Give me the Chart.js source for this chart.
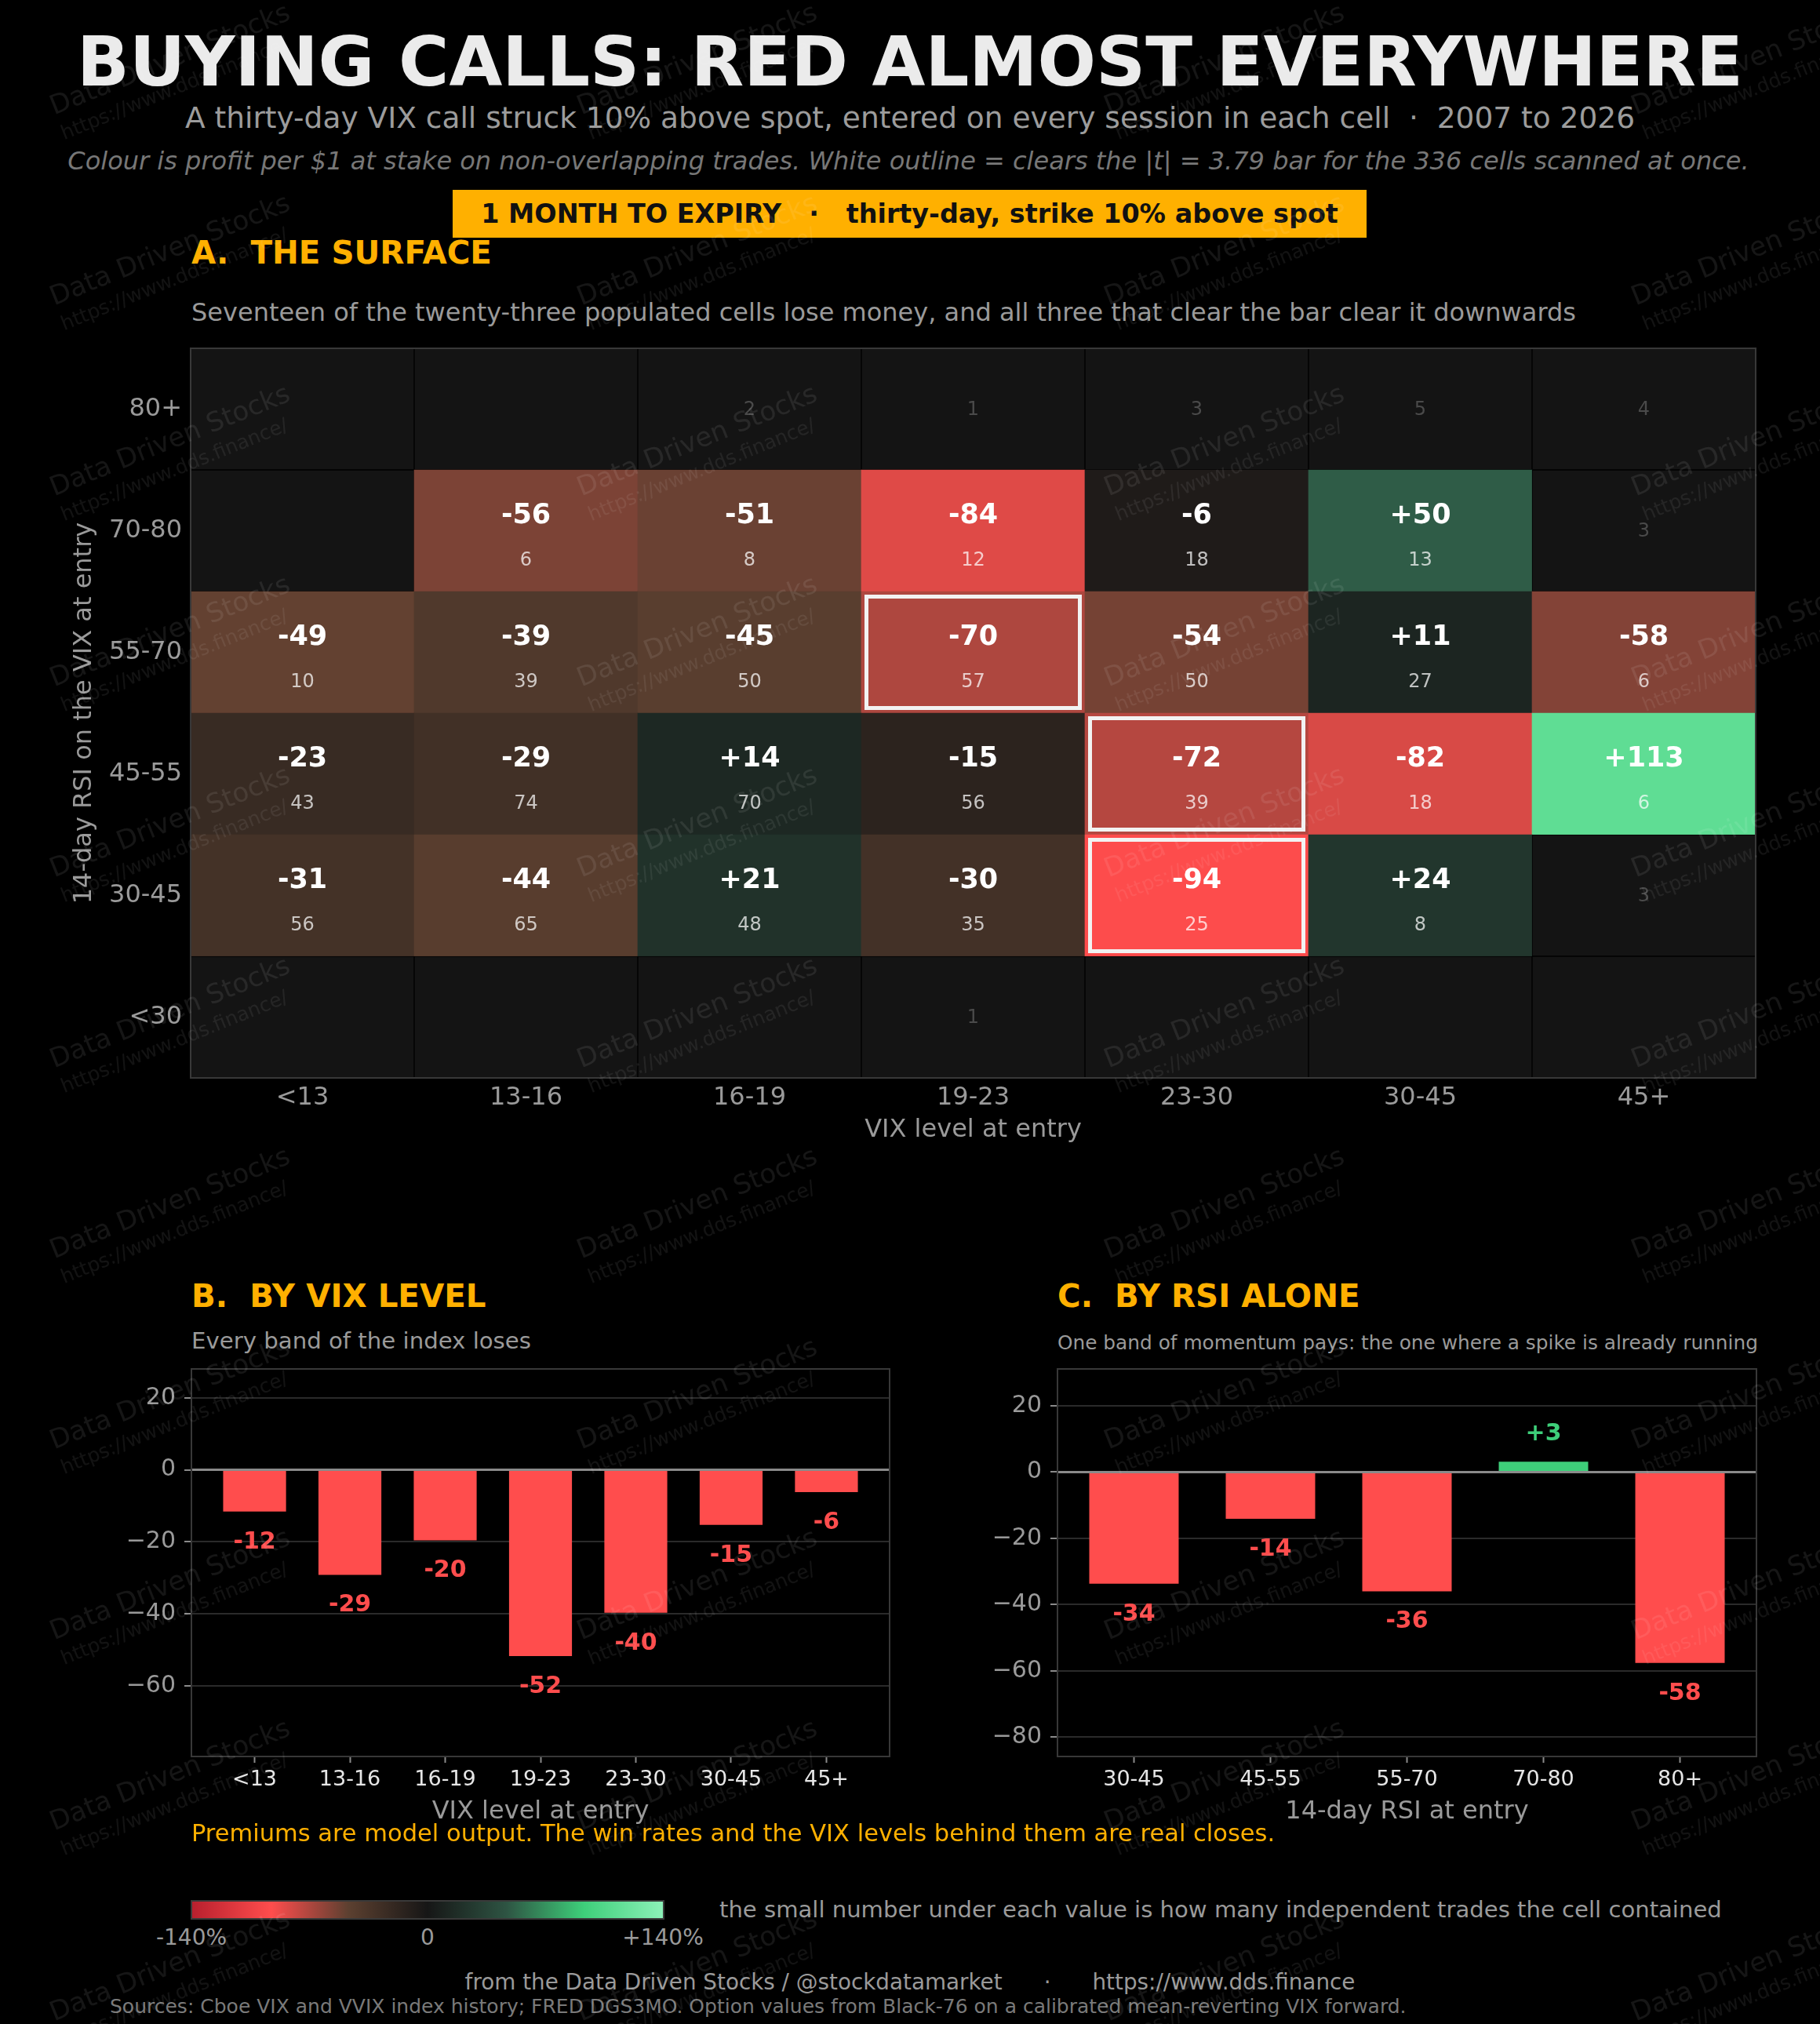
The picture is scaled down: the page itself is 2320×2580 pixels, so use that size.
<!DOCTYPE html>
<html><head><meta charset="utf-8">
<script src="https://cdn.jsdelivr.net/npm/chart.js@4.4.1/dist/chart.umd.min.js"></script>
<style>
html,body{margin:0;padding:0;background:#000;}
#page{position:relative;width:2320px;height:2580px;background:#000;overflow:hidden;font-family:'DejaVu Sans',sans-serif;}
.t{position:absolute;line-height:1;white-space:pre;}
.c{transform:translate(-50%,-50%);}
.l{transform:translate(0,-50%);}
canvas{position:absolute;}
#wm{position:absolute;left:0;top:0;width:2320px;height:2580px;pointer-events:none;z-index:10;}
.wm{position:absolute;white-space:pre;line-height:1.25;transform:translate(-50%,-50%) rotate(-22deg);}
.wm .a{font-size:34px;color:rgba(255,255,255,0.085);}
.wm .b{font-size:25px;color:rgba(255,255,255,0.075);}
</style></head>
<body><div id="page">
<div class="t c" style="left:1160px;top:80px;font-size:87.7px;font-weight:bold;color:#ebebeb;">BUYING CALLS: RED ALMOST EVERYWHERE</div>
<div class="t c" style="left:1160px;top:151px;font-size:37.5px;color:#9c9c9c;">A thirty-day VIX call struck 10% above spot, entered on every session in each cell  ·  2007 to 2026</div>
<div class="t c" style="left:1158px;top:205px;font-size:32px;font-style:italic;color:#777777;">Colour is profit per $1 at stake on non-overlapping trades. White outline = clears the |t| = 3.79 bar for the 336 cells scanned at once.</div>
<div style="position:absolute;left:577px;top:242px;width:1165px;height:61px;background:#ffb000;display:flex;align-items:center;justify-content:center;">
<span style="font-size:33.4px;font-weight:bold;color:#111;white-space:pre;line-height:1;">1 MONTH TO EXPIRY   ·   thirty-day, strike 10% above spot</span></div>
<div class="t l" style="left:244px;top:322px;font-size:40.4px;font-weight:bold;color:#ffb000;">A.  THE SURFACE</div>
<div class="t l" style="left:244px;top:398px;font-size:32px;color:#9a9a9a;">Seventeen of the twenty-three populated cells lose money, and all three that clear the bar clear it downwards</div>

<canvas id="heat" width="2320" height="1050" style="left:0;top:430px;width:2320px;height:1050px;"></canvas>

<div class="t l" style="left:244px;top:1652px;font-size:40.4px;font-weight:bold;color:#ffb000;">B.  BY VIX LEVEL</div>
<div class="t l" style="left:244px;top:1710px;font-size:29.2px;color:#9a9a9a;">Every band of the index loses</div>
<div class="t l" style="left:1348px;top:1652px;font-size:40.4px;font-weight:bold;color:#ffb000;">C.  BY RSI ALONE</div>
<div class="t l" style="left:1348px;top:1712px;font-size:24.8px;color:#9a9a9a;">One band of momentum pays: the one where a spike is already running</div>

<canvas id="barB" width="1160" height="620" style="left:0;top:1730px;width:1160px;height:620px;"></canvas>
<canvas id="barC" width="1160" height="620" style="left:1160px;top:1730px;width:1160px;height:620px;"></canvas>

<div class="t l" style="left:244px;top:2337px;font-size:30.5px;color:#ffb000;">Premiums are model output. The win rates and the VIX levels behind them are real closes.</div>

<div id="cbar" style="position:absolute;left:243px;top:2422px;width:604px;height:25px;box-sizing:border-box;border:2px solid #3a3a3a;"></div>
<div class="t c" style="left:244px;top:2470px;font-size:28px;color:#9a9a9a;">-140%</div>
<div class="t c" style="left:545px;top:2470px;font-size:28px;color:#9a9a9a;">0</div>
<div class="t c" style="left:845px;top:2470px;font-size:28px;color:#9a9a9a;">+140%</div>
<div class="t l" style="left:917px;top:2435px;font-size:29.1px;color:#9a9a9a;">the small number under each value is how many independent trades the cell contained</div>

<div class="t c" style="left:1160px;top:2527px;font-size:27.8px;color:#9a9a9a;">from the Data Driven Stocks / @stockdatamarket      ·      https://www.dds.finance</div>
<div class="t l" style="left:140px;top:2557px;font-size:25px;color:#7a7a7a;">Sources: Cboe VIX and VVIX index history; FRED DGS3MO. Option values from Black-76 on a calibrated mean-reverting VIX forward.</div>

<div id="wm"></div>
</div>
<script>
// ---------- DATA ----------
const vixBands = ['<13','13-16','16-19','19-23','23-30','30-45','45+'];
const rsiBands = ['<30','30-45','45-55','55-70','70-80','80+']; // bottom -> top
// profit per $1 at stake (%) ; null = too few trades to colour
const pnl_lt30  = [null, null, null, null, null, null, null];
const pnl_30_45 = [-31, -44, 21, -30, -94, 24, null];
const pnl_45_55 = [-23, -29, 14, -15, -72, -82, 113];
const pnl_55_70 = [-49, -39, -45, -70, -54, 11, -58];
const pnl_70_80 = [null, -56, -51, -84, -6, 50, null];
const pnl_80p   = [null, null, null, null, null, null, null];
// independent trades per cell
const n_lt30  = [0, 0, 0, 1, 0, 0, 0];
const n_30_45 = [56, 65, 48, 35, 25, 8, 3];
const n_45_55 = [43, 74, 70, 56, 39, 18, 6];
const n_55_70 = [10, 39, 50, 57, 50, 27, 6];
const n_70_80 = [0, 6, 8, 12, 18, 13, 3];
const n_80p   = [0, 0, 2, 1, 3, 5, 4];
// cells clearing |t| = 3.79
const significant = [['55-70','19-23'], ['45-55','23-30'], ['30-45','23-30']];
// panel B / C
const vixAvg = [-11.6, -29.2, -19.6, -51.7, -39.7, -15.3, -6.2];
const rsiAlone = ['30-45','45-55','55-70','70-80','80+'];
const rsiAvg = [-33.7, -14.1, -36.0, 3.1, -57.6];
const yTicksB = [-60, -40, -20, 0, 20];
const yTicksC = [-80, -60, -40, -20, 0, 20];
// colour scale
const colourStops = [-140, -93, -47, 0, 47, 93, 140];
const colourHex = ['#b8202e', '#ff4d4d', '#5c4030', '#161616', '#2e5443', '#3ecf7a', '#8cf0b8'];

// ---------- helpers ----------
const RED = '#ff4d4d', GREEN = '#3ecf7a', EMPTY = '#141414';
const pnlRows = [pnl_lt30, pnl_30_45, pnl_45_55, pnl_55_70, pnl_70_80, pnl_80p];
const nRows = [n_lt30, n_30_45, n_45_55, n_55_70, n_70_80, n_80p];
function hexRgb(h){ return [parseInt(h.slice(1,3),16), parseInt(h.slice(3,5),16), parseInt(h.slice(5,7),16)]; }
function colourAt(v){
  v = Math.max(colourStops[0], Math.min(colourStops[colourStops.length-1], v));
  for (let i = 0; i < colourStops.length-1; i++){
    if (v <= colourStops[i+1]){
      const t = (v - colourStops[i]) / (colourStops[i+1] - colourStops[i]);
      const a = hexRgb(colourHex[i]), b = hexRgb(colourHex[i+1]);
      return 'rgb(' + a.map((x,k)=>Math.round(x + t*(b[k]-x))).join(',') + ')';
    }
  }
  return colourHex[colourHex.length-1];
}
const fmt = v => (v > 0 ? '+' : '') + Math.round(v);
const FONT = '"DejaVu Sans"';
Chart.defaults.font.family = "'DejaVu Sans', sans-serif";
function noPad(s){ s.paddingLeft = 0; s.paddingRight = 0; s.paddingTop = 0; s.paddingBottom = 0; }

// colour bar
document.getElementById('cbar').style.background = 'linear-gradient(to right,' +
  colourStops.map((s,i)=> colourHex[i] + ' ' + ((s - colourStops[0]) / (colourStops[colourStops.length-1] - colourStops[0]) * 100).toFixed(2) + '%').join(',') + ')';

// watermarks
(function(){
  const wm = document.getElementById('wm');
  for (let k = 0; k < 4; k++) for (let j = 0; j < 11; j++){
    const d = document.createElement('div');
    d.className = 'wm';
    d.style.left = (222 + k*672) + 'px';
    d.style.top = (89 + j*243) + 'px';
    d.innerHTML = '<div class="a">Data Driven Stocks</div><div class="b">https://www.dds.finance/</div>';
    wm.appendChild(d);
  }
})();

// ---------- heatmap ----------
const heatLabels = {
  id: 'heatLabels',
  afterDatasetsDraw(chart){
    const ctx = chart.ctx, ca = chart.chartArea;
    ctx.save();
    ctx.textAlign = 'center'; ctx.textBaseline = 'middle';
    chart.data.datasets.forEach((ds, r) => {
      chart.getDatasetMeta(r).data.forEach((el, c) => {
        const p = el.getProps(['x','y','base'], true);
        const top = Math.min(p.y, p.base), h = Math.abs(p.base - p.y), cy = top + h/2;
        const v = pnlRows[r][c], n = nRows[r][c];
        if (v === null){
          if (n > 0){ ctx.fillStyle = '#4a4a4a'; ctx.font = '24px ' + FONT; ctx.fillText(String(n), p.x, cy + 1); }
          return;
        }
        ctx.fillStyle = '#ffffff'; ctx.font = 'bold 35px ' + FONT;
        ctx.fillText(fmt(v), p.x, cy - 0.12*h);
        ctx.fillStyle = 'rgba(255,255,255,0.72)'; ctx.font = '24px ' + FONT;
        ctx.fillText(String(n), p.x, cy + 0.245*h);
      });
    });
    ctx.strokeStyle = '#f2f2f2'; ctx.lineWidth = 5;
    significant.forEach(([rb, vb]) => {
      const r = rsiBands.indexOf(rb), c = vixBands.indexOf(vb);
      const el = chart.getDatasetMeta(r).data[c];
      const p = el.getProps(['x','y','base','width'], true);
      const top = Math.min(p.y, p.base), h = Math.abs(p.base - p.y);
      const ins = 6.5;
      ctx.strokeRect(p.x - p.width/2 + ins, top + ins, p.width - 2*ins, h - 2*ins);
    });
    ctx.strokeStyle = '#383838'; ctx.lineWidth = 2;
    ctx.strokeRect(ca.left, ca.top, ca.right - ca.left, ca.bottom - ca.top);
    ctx.restore();
  }
};

new Chart(document.getElementById('heat'), {
  type: 'bar',
  data: {
    labels: vixBands,
    datasets: rsiBands.map((rb, r) => ({
      label: rb,
      data: vixBands.map(() => 1),
      backgroundColor: vixBands.map((_, c) => pnlRows[r][c] === null ? EMPTY : colourAt(pnlRows[r][c])),
      borderColor: '#000000',
      borderWidth: vixBands.map((_, c) => pnlRows[r][c] === null ? 1 : 0),
      borderSkipped: false,
      barPercentage: 1, categoryPercentage: 1
    }))
  },
  options: {
    responsive: false, animation: false, devicePixelRatio: 1,
    layout: { padding: { top: 14, right: 82, bottom: 0, left: 0 }, autoPadding: false },
    scales: {
      x: {
        stacked: true,
        grid: { display: false, drawTicks: false }, border: { display: false },
        ticks: { color: '#9a9a9a', font: { size: 32 }, padding: 6, maxRotation: 0, autoSkip: false },
        title: { display: true, text: 'VIX level at entry', color: '#9a9a9a', font: { size: 32 }, padding: { top: 0, bottom: 20 } },
        afterFit: s => { s.height = 106; noPad(s); }
      },
      y: {
        stacked: true, min: 0, max: 6,
        grid: { display: false, drawTicks: false }, border: { display: false },
        afterBuildTicks: s => { s.ticks = rsiBands.map((_, i) => ({ value: i + 0.5 })); },
        ticks: { color: '#9a9a9a', font: { size: 32 }, padding: 11, callback: v => rsiBands[Math.floor(v)] },
        title: { display: true, text: '14-day RSI on the VIX at entry', color: '#9a9a9a', font: { size: 32 }, padding: { top: 88, bottom: 0 } },
        afterFit: s => { s.width = 243; noPad(s); }
      }
    },
    plugins: { legend: { display: false }, tooltip: { enabled: false } }
  },
  plugins: [heatLabels]
});

// ---------- bar panels ----------
const barDecor = {
  id: 'barDecor',
  afterDatasetsDraw(chart){
    const ctx = chart.ctx, ca = chart.chartArea, ys = chart.scales.y;
    ctx.save();
    const y0 = ys.getPixelForValue(0);
    ctx.strokeStyle = '#8a8a8a'; ctx.lineWidth = 3;
    ctx.beginPath(); ctx.moveTo(ca.left, y0); ctx.lineTo(ca.right, y0); ctx.stroke();
    ctx.strokeStyle = '#383838'; ctx.lineWidth = 2;
    ctx.strokeRect(ca.left, ca.top, ca.right - ca.left, ca.bottom - ca.top);
    const vals = chart.data.datasets[0].data;
    ctx.font = 'bold 30px ' + FONT; ctx.textAlign = 'center'; ctx.textBaseline = 'middle';
    chart.getDatasetMeta(0).data.forEach((el, i) => {
      const v = vals[i].y;
      ctx.fillStyle = v >= 0 ? GREEN : RED;
      ctx.fillText(fmt(v), el.x, v >= 0 ? el.y - 35 : el.y + 39);
    });
    ctx.restore();
  }
};

function barPanel(id, cats, vals, yMin, yMax, yTicks, yWidth, padRight, barPct, title){
  const span = (cats.length - 1) + barPct;
  const margin = span * 0.05 + barPct / 2;
  return new Chart(document.getElementById(id), {
    type: 'bar',
    data: { datasets: [{
      data: vals.map((v, i) => ({ x: i, y: v })),
      backgroundColor: vals.map(v => v >= 0 ? GREEN : RED),
      borderWidth: 0, barPercentage: barPct, categoryPercentage: 1
    }]},
    options: {
      responsive: false, animation: false, devicePixelRatio: 1,
      layout: { padding: { top: 15, right: padRight, bottom: 0, left: 0 }, autoPadding: false },
      scales: {
        x: {
          type: 'linear', offset: false, min: -margin, max: (cats.length - 1) + margin,
          afterBuildTicks: s => { s.ticks = cats.map((_, i) => ({ value: i })); },
          ticks: { color: '#e6e6e6', font: { size: 27 }, padding: 6, maxRotation: 0, autoSkip: false, callback: v => cats[v] },
          grid: { offset: false, drawOnChartArea: false, drawTicks: true, tickLength: 8, tickColor: '#8a8a8a', tickWidth: 2 },
          border: { display: false },
          title: { display: true, text: title, color: '#9a9a9a', font: { size: 32 }, padding: { top: 0, bottom: 21 } },
          afterFit: s => { s.height = 111; noPad(s); }
        },
        y: {
          min: yMin, max: yMax,
          afterBuildTicks: s => { s.ticks = yTicks.map(v => ({ value: v })); },
          ticks: { color: '#9a9a9a', font: { size: 30 }, padding: 11, callback: v => v < 0 ? '\u2212' + Math.abs(v) : String(v) },
          grid: { color: '#2a2a2a', lineWidth: 2, drawTicks: true, tickLength: 9, tickColor: '#8a8a8a', tickWidth: 2 },
          border: { display: false },
          afterFit: s => { s.width = yWidth; noPad(s); }
        }
      },
      plugins: { legend: { display: false }, tooltip: { enabled: false } }
    },
    plugins: [barDecor]
  });
}
barPanel('barB', vixBands, vixAvg, -79.6, 28, yTicksB, 244, 26, 0.66, 'VIX level at entry');
barPanel('barC', rsiAlone, rsiAvg, -85.8, 31.1, yTicksC, 188, 81, 0.655, '14-day RSI at entry');
</script>
</body></html>
